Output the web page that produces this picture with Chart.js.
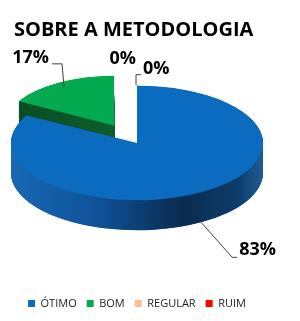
<!DOCTYPE html>
<html><head><meta charset="utf-8">
<script src="https://cdn.jsdelivr.net/npm/chart.js@4/dist/chart.umd.min.js"></script>
<style>html,body{margin:0;padding:0;background:#fff;}canvas{display:block;}</style>
</head><body>
<canvas id="c" width="300" height="321"></canvas>
<script>
// ---- data ----
const titleText = 'SOBRE A METODOLOGIA';
const categories = ['ÓTIMO', 'BOM', 'REGULAR', 'RUIM'];
const percentValues = [83, 17, 0, 0];
const valueLabels = ['83%', '17%', '0%', '0%'];

// ---- style ----
const topColors = ['#0B6BBF', '#04AA50', '#FAC090', '#FF0000'];
const explode = [0, 176, 0, 0];           // Chart.js v4 arc offset (drawn at offset/4)
const radiusScale = [1, 0.83, 1, 1];      // back slice looks smaller in perspective
const RADIUS = 126, SQUASH = 0.455, CENTER_Y = 143, DEPTH = 30;
const FONT = "'Open Sans', sans-serif";

// label layout: anchor radius fraction, whether at side bottom, leader points & text offset (relative to anchor)
const LABEL_LAYOUT = [
  {rf: 1,    depth: true,  line: [[31, 35], [36, 35]],            text: [38, 28],   align: 'left'},
  {rf: 0.95, depth: false, line: [[-2, -23], [-12, -23]],         text: [-15, -28.5], align: 'right'},
  {rf: 1,    depth: false, line: [],                              text: [-1, -27],  align: 'right'},
  {rf: 1,    depth: false, line: [[-1, -1], [-1, -11], [4, -11]], text: [6, -17],   align: 'left'}
];

function sideFill(ctx, i, cx) {
  if (i === 0) {
    const g = ctx.createLinearGradient(cx - RADIUS, 0, cx + RADIUS, 0);
    g.addColorStop(0, '#1868B4');
    g.addColorStop(0.35, '#0F5197');
    g.addColorStop(0.68, '#0A2B4E');
    g.addColorStop(0.9, '#0E3C6C');
    g.addColorStop(1, '#1F5C94');
    return g;
  }
  const g = ctx.createLinearGradient(cx - RADIUS, 0, cx, 0);
  g.addColorStop(0, '#0A4520');
  g.addColorStop(1, '#0C5E2C');
  return g;
}

const pie3d = {
  id: 'pie3d',
  afterDatasetsUpdate(chart) {
    const meta = chart.getDatasetMeta(0);
    meta.data.forEach((arc, i) => { arc.outerRadius = arc.outerRadius * radiusScale[i]; });
  },
  beforeDatasetsDraw(chart) {
    const ctx = chart.ctx, meta = chart.getDatasetMeta(0);
    const a = meta.data[0];
    const cx = a.x, cy = a.y;
    ctx.save();
    ctx.translate(cx, CENTER_Y);
    ctx.scale(1, SQUASH);
    ctx.translate(-cx, -cy);
    const depthU = DEPTH / SQUASH;
    [1, 0, 2, 3].forEach(i => {
      if (!percentValues[i]) return;
      const arc = meta.data[i];
      const proxy = Object.create(arc);
      proxy.options = Object.assign({}, arc.options, {backgroundColor: sideFill(ctx, i, cx), borderWidth: 0});
      for (let s = depthU; s > 0; s -= 1) {
        ctx.save();
        ctx.translate(0, s);
        proxy.draw(ctx);
        ctx.restore();
      }
    });
  },
  afterDatasetsDraw(chart) {
    chart.ctx.restore();
  }
};

const pieLabels = {
  id: 'pieLabels',
  afterDraw(chart) {
    const ctx = chart.ctx, meta = chart.getDatasetMeta(0);
    ctx.save();
    meta.data.forEach((arc, i) => {
      const L = LABEL_LAYOUT[i];
      const mid = (arc.startAngle + arc.endAngle) / 2;
      const d = (arc.options.offset || 0) / 4;
      const r = d + arc.outerRadius * L.rf;
      const px = arc.x + Math.cos(mid) * r;
      const py = arc.y + Math.sin(mid) * r;
      const ax = px, ay = CENTER_Y + (py - arc.y) * SQUASH + (L.depth ? DEPTH : 0);
      if (L.line.length) {
        ctx.beginPath();
        ctx.moveTo(ax, ay);
        L.line.forEach(p => ctx.lineTo(ax + p[0], ay + p[1]));
        ctx.strokeStyle = '#404040';
        ctx.lineWidth = 1;
        ctx.stroke();
      }
      ctx.fillStyle = '#000';
      ctx.font = 'bold 18px ' + FONT;
      ctx.textAlign = L.align;
      ctx.textBaseline = 'middle';
      ctx.fillText(valueLabels[i], ax + L.text[0], ay + L.text[1]);
    });
    ctx.restore();
  }
};

new Chart(document.getElementById('c'), {
  type: 'pie',
  data: {
    labels: categories,
    datasets: [{
      data: percentValues,
      backgroundColor: topColors,
      borderWidth: 0,
      offset: explode,
      radius: RADIUS,
      clip: false
    }]
  },
  options: {
    responsive: false,
    animation: false,
    events: [],
    layout: {padding: {left: 14, right: 40, top: 0, bottom: 2}},
    plugins: {
      tooltip: {enabled: false},
      title: {
        display: true, text: titleText, align: 'start', color: '#000',
        font: {family: FONT, size: 20, weight: 'bold'},
        padding: {top: 18, bottom: 10}
      },
      legend: {
        position: 'bottom',
        labels: {boxWidth: 7, boxHeight: 7, padding: 10, color: '#222', font: {family: FONT, size: 11}}
      }
    }
  },
  plugins: [pie3d, pieLabels]
});
</script>
</body></html>
